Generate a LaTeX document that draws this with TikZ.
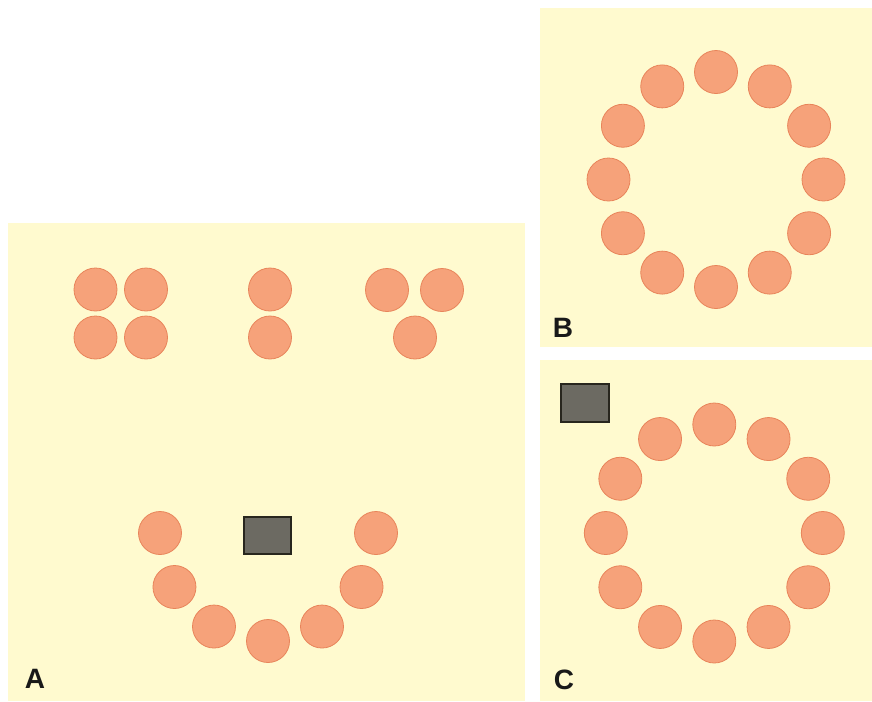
\documentclass[tikz,border=0pt]{standalone}
\usepackage{fontspec}
\setmainfont{Liberation Sans}
\usetikzlibrary{calc}
\definecolor{panel}{RGB}{255,250,207}
\definecolor{disc}{RGB}{246,162,122}
\definecolor{discedge}{RGB}{232,132,90}
\definecolor{block}{RGB}{108,106,98}
\definecolor{blockedge}{RGB}{40,38,30}
\tikzset{
  panelbox/.style={fill=panel, draw=none},
  seat/.style={circle, fill=disc, draw=discedge, line width=0.6pt, minimum size=43*0.75pt, inner sep=0pt},
  desk/.style={rectangle, fill=block, draw=blockedge, line width=1pt, inner sep=0pt},
  panellabel/.style={font=\bfseries\fontsize{21}{21}\selectfont, text=black!90, inner sep=0pt}
}
\begin{document}
\begin{tikzpicture}[x=0.75pt, y=-0.75pt]
\useasboundingbox (0,0) rectangle (872,701);
\fill[white] (0,0) rectangle (872,701);
% panels
\path[panelbox] (8,223) rectangle (525,701);
\path[panelbox] (540,8) rectangle (872,347);
\path[panelbox] (540,360) rectangle (872,701);

% Panel A top groups
\node[seat] (a1) at (95.5,289.5) {};
\node[seat] (a2) at (146,289.5) {};
\node[seat] (a3) at (95.5,337.5) {};
\node[seat] (a4) at (146,337.5) {};
\node[seat] (a5) at (270,289.5) {};
\node[seat] (a6) at (270,337.5) {};
\node[seat] (a7) at (387,290) {};
\node[seat] (a8) at (442,290) {};
\node[seat] (a9) at (415,337.5) {};

% Panel A arc
\coordinate (ac) at (268,533);
\foreach \k in {0,...,6} {
  \node[seat] (arc\k) at ($(ac)+({\k*30}:108)$) {};
}
\node[desk, minimum width=47*0.75pt, minimum height=37*0.75pt] (deskA) at (267.5,535.5) {};
\node[panellabel] (labA) at (35,679) {A};

% Panel B ring
\coordinate (bc) at (716,179.5);
\foreach \k in {0,...,11} {
  \node[seat] (b\k) at ($(bc)+({\k*30}:107.5)$) {};
}
\node[panellabel] (labB) at (563,328) {B};

% Panel C ring
\coordinate (cc) at (714.3,533);
\foreach \k in {0,...,11} {
  \node[seat] (c\k) at ($(cc)+({\k*30}:108.5)$) {};
}
\node[desk, minimum width=48*0.75pt, minimum height=38*0.75pt] (deskC) at (585,403) {};
\node[panellabel] (labC) at (564,680) {C};
\end{tikzpicture}
\end{document}
